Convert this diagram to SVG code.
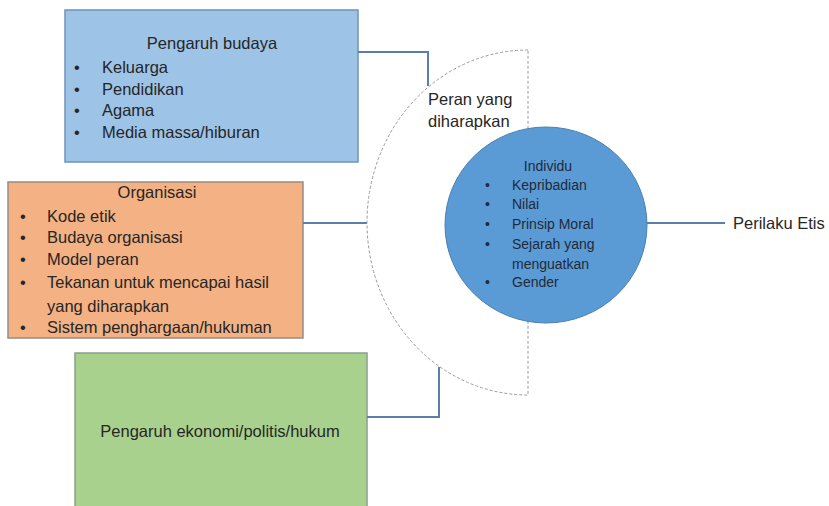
<svg xmlns="http://www.w3.org/2000/svg" width="829" height="506" viewBox="0 0 829 506">
<style>
text{font-family:"Liberation Sans",Arial,sans-serif;font-size:16.5px;fill:#262626}
.c{text-anchor:middle}
.s{font-size:14px;fill:#1f2a3a}
.conn{fill:none;stroke:#5a7fae;stroke-width:2}
</style>
<rect width="829" height="506" fill="#ffffff"/>
<g id="budaya">
<rect x="65" y="10" width="293" height="152" fill="#9dc3e6" stroke="#6f93b8" stroke-width="1.5"/>
<text class="c" x="212" y="49">Pengaruh budaya</text>
<text x="74" y="73">•</text><text x="102" y="73">Keluarga</text>
<text x="74" y="95">•</text><text x="102" y="95">Pendidikan</text>
<text x="74" y="116">•</text><text x="102" y="116">Agama</text>
<text x="74" y="138">•</text><text x="102" y="138">Media massa/hiburan</text>
</g>
<g id="organisasi">
<rect x="8" y="182" width="295" height="156" fill="#f4b183" stroke="#9a8a80" stroke-width="1.5"/>
<text class="c" x="157" y="198">Organisasi</text>
<text x="20" y="222">•</text><text x="47" y="222">Kode etik</text>
<text x="20" y="243">•</text><text x="47" y="243">Budaya organisasi</text>
<text x="20" y="265">•</text><text x="47" y="265">Model peran</text>
<text x="20" y="288">•</text><text x="47" y="288">Tekanan untuk mencapai hasil</text>
<text x="47" y="312">yang diharapkan</text>
<text x="20" y="333">•</text><text x="47" y="333">Sistem penghargaan/hukuman</text>
</g>
<g id="ekonomi">
<rect x="75" y="353" width="292" height="160" fill="#a9d18e" stroke="#8aa08a" stroke-width="1.5"/>
<text class="c" x="220" y="437">Pengaruh ekonomi/politis/hukum</text>
</g>
<g id="connectors">
<path class="conn" d="M358 52 H428 V86"/>
<path class="conn" d="M303 223 H367"/>
<path class="conn" d="M367 417 H439 V367"/>
<path class="conn" d="M647 223 H725"/>
</g>
<g id="peran">
<path d="M528 50 A161 172.5 0 0 0 528 395 Z" fill="#ffffff" stroke="#9a9a9a" stroke-width="1" stroke-dasharray="3 2"/>
<text x="428" y="105">Peran yang</text>
<text x="428" y="127">diharapkan</text>
</g>
<g id="individu">
<ellipse cx="546" cy="225" rx="101" ry="98" fill="#5b9bd5" stroke="#4a7fb0" stroke-width="1"/>
<text class="c s" x="548" y="171">Individu</text>
<text class="s" x="485" y="190">•</text><text class="s" x="512" y="190">Kepribadian</text>
<text class="s" x="485" y="209">•</text><text class="s" x="512" y="209">Nilai</text>
<text class="s" x="485" y="229">•</text><text class="s" x="512" y="229">Prinsip Moral</text>
<text class="s" x="485" y="249">•</text><text class="s" x="512" y="249">Sejarah yang</text>
<text class="s" x="512" y="269">menguatkan</text>
<text class="s" x="485" y="287">•</text><text class="s" x="512" y="287">Gender</text>
</g>
<g id="perilaku">
<text x="733" y="229">Perilaku Etis</text>
</g>
</svg>
